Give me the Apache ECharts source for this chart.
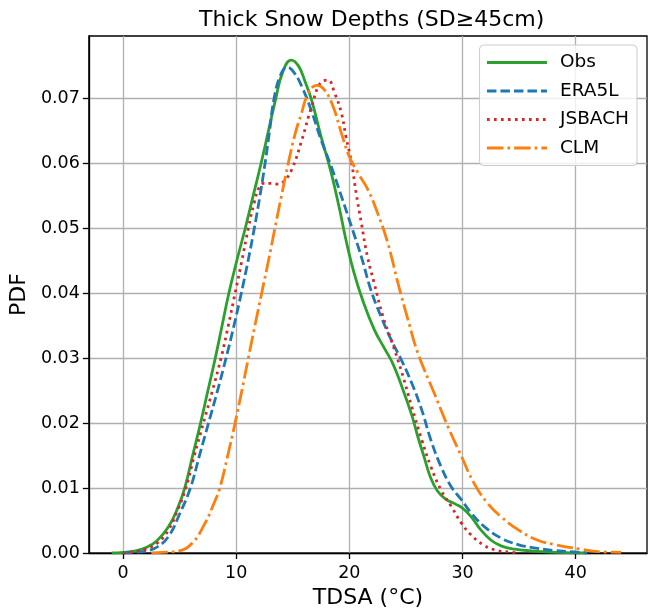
<!DOCTYPE html>
<html>
<head>
<meta charset="utf-8">
<script src="https://cdn.jsdelivr.net/npm/echarts@6/dist/echarts.min.js"></script>
<style>
html,body{margin:0;padding:0;background:#fff;}
#chart{width:655px;height:615px;}
</style>
</head>
<body>
<div id="chart"></div>
<script>
// ---- data ----
const seriesNames = ['Obs', 'ERA5L', 'JSBACH', 'CLM'];
const xTicks = [0, 10, 20, 30, 40];
const yTicks = [0, 0.01, 0.02, 0.03, 0.04, 0.05, 0.06, 0.07];

const obsData = [
  [-1.0, 0.0000], [0.0, 0.0001], [1.0, 0.0003], [2.0, 0.0008], [3.0, 0.0019],
  [4.0, 0.0040], [4.8, 0.0068], [5.45, 0.0100], [6.15, 0.0150], [6.85, 0.0200],
  [7.5, 0.0250], [8.15, 0.0300], [8.75, 0.0350], [9.35, 0.0400], [10.05, 0.0450],
  [10.8, 0.0500], [11.5, 0.0550], [12.2, 0.0600], [12.85, 0.0650], [13.5, 0.0700],
  [14.1, 0.0740], [14.85, 0.0759], [15.5, 0.0750], [16.1, 0.0725], [16.7, 0.0695],
  [17.5, 0.0641], [18.4, 0.0585], [19.15, 0.0528], [19.7, 0.0482], [20.4, 0.0432],
  [21.2, 0.0388], [22.2, 0.0344], [23.1, 0.0315], [23.8, 0.0293], [24.6, 0.0258],
  [25.5, 0.0213], [26.05, 0.0179], [26.6, 0.0148], [27.2, 0.0115], [27.8, 0.0095],
  [28.5, 0.0083], [29.3, 0.0076], [30.0, 0.0069], [30.75, 0.0056], [31.6, 0.0036],
  [32.5, 0.0020], [33.4, 0.0011], [34.6, 0.0006], [36.3, 0.0003], [38.5, 0.0001],
  [41.0, 0.0000]
];
const era5lData = [
  [0.0, 0.0000], [1.0, 0.0001], [2.0, 0.0003], [3.0, 0.0009], [4.0, 0.0025],
  [5.0, 0.0060], [5.95, 0.0100], [6.75, 0.0150], [7.55, 0.0200], [8.35, 0.0250],
  [9.1, 0.0300], [9.8, 0.0350], [10.45, 0.0400], [11.05, 0.0450], [11.6, 0.0500],
  [12.1, 0.0550], [12.55, 0.0600], [12.95, 0.0650], [13.35, 0.0700], [13.9, 0.0735],
  [14.5, 0.0748], [15.1, 0.0740], [15.8, 0.0718], [16.66, 0.0680], [17.5, 0.0636],
  [18.4, 0.0595], [19.3, 0.0549], [20.2, 0.0502], [21.06, 0.0456], [21.9, 0.0405],
  [22.8, 0.0364], [23.7, 0.0328], [24.6, 0.0297], [25.5, 0.0262], [26.4, 0.0220],
  [27.2, 0.0174], [28.1, 0.0133], [29.0, 0.0102], [29.9, 0.0082], [30.75, 0.0062],
  [31.9, 0.0041], [33.4, 0.0023], [34.9, 0.0013], [36.3, 0.0008], [38.0, 0.0004],
  [39.5, 0.0002], [41.0, 0.0000]
];
const jsbachData = [
  [0.0, 0.0000], [1.0, 0.0002], [2.0, 0.0006], [3.0, 0.0015], [4.0, 0.0035],
  [4.8, 0.0065], [5.55, 0.0100], [6.3, 0.0150], [7.1, 0.0200], [7.9, 0.0250],
  [8.66, 0.0300], [9.3, 0.0350], [9.9, 0.0400], [10.5, 0.0450], [11.07, 0.0500],
  [11.6, 0.0540], [12.0, 0.0562], [12.4, 0.0569], [13.1, 0.0569], [13.7, 0.0568],
  [14.2, 0.0572], [14.9, 0.0590], [15.8, 0.0636], [16.66, 0.0687], [17.5, 0.0725],
  [18.1, 0.0728], [18.7, 0.0708], [19.3, 0.0677], [19.7, 0.0641], [20.2, 0.0600],
  [20.6, 0.0554], [21.06, 0.0508], [21.6, 0.0456], [22.2, 0.0415], [22.97, 0.0364],
  [23.7, 0.0328], [24.6, 0.0280], [25.5, 0.0226], [26.4, 0.0174], [27.2, 0.0133],
  [28.1, 0.0097], [29.0, 0.0072], [29.9, 0.0046], [30.75, 0.0028], [31.8, 0.0013],
  [32.8, 0.0005], [34.3, 0.0001], [35.0, 0.0000]
];
const clmData = [
  [2.5, 0.0000], [3.5, 0.0001], [4.9, 0.0003], [6.1, 0.0015], [7.25, 0.0046],
  [8.0, 0.0075], [8.55, 0.0100], [9.25, 0.0150], [9.9, 0.0200], [10.5, 0.0250],
  [11.07, 0.0300], [11.65, 0.0350], [12.25, 0.0400], [12.85, 0.0450], [13.42, 0.0500],
  [14.0, 0.0550], [14.6, 0.0600], [15.2, 0.0645], [15.77, 0.0677], [16.3, 0.0705],
  [17.1, 0.0720], [17.8, 0.0713], [18.57, 0.0687], [19.3, 0.0646], [20.0, 0.0610],
  [20.77, 0.0585], [21.65, 0.0559], [22.5, 0.0523], [23.4, 0.0477], [24.3, 0.0415],
  [25.2, 0.0358], [26.05, 0.0308], [27.5, 0.0246], [28.7, 0.0195], [29.9, 0.0149],
  [31.0, 0.0108], [32.2, 0.0077], [33.4, 0.0056], [34.9, 0.0036], [36.6, 0.0020],
  [38.1, 0.0013], [40.4, 0.0006], [42.0, 0.0002], [44.0, 0.0001]
];
const allData = [obsData, era5lData, jsbachData, clmData];

// ---- styles ----
const FONT = 'DejaVu Sans';
const colors = ['#2ca02c', '#1f77b4', '#d62728', '#ff7f0e'];
const dashes = ['solid', [9.5, 4], [2.7, 4.3], [16.5, 4, 2.7, 4]];

const chart = echarts.init(document.getElementById('chart'), null, {renderer: 'canvas'});
const option = {
  animation: false,
  backgroundColor: '#ffffff',
  textStyle: {fontFamily: FONT},
  title: {
    text: 'Thick Snow Depths (SD≥45cm)',
    left: 366.7,
    textAlign: 'center',
    top: 4,
    textStyle: {fontFamily: FONT, fontSize: 22, fontWeight: 'normal', color: '#000'}
  },
  grid: {
    left: 87, right: 8, top: 36, bottom: 62,
    show: true, borderColor: '#000', borderWidth: 1.3, backgroundColor: 'transparent'
  },
  legend: {
    orient: 'vertical',
    right: 18,
    top: 45,
    padding: [8, 8, 8, 6],
    itemWidth: 60,
    itemHeight: 18,
    itemGap: 9.5,
    backgroundColor: 'rgba(255,255,255,0.8)',
    borderColor: '#cccccc',
    borderWidth: 1,
    borderRadius: 4,
    itemStyle: {opacity: 0},
    lineStyle: {width: 2.8},
    textStyle: {fontFamily: FONT, fontSize: 18.5, color: '#000', padding: [0, 0, 0, 8]},
    data: seriesNames
  },
  xAxis: {
    type: 'value',
    min: -3.02,
    max: 46.3,
    position: 'bottom',
    name: 'TDSA (°C)',
    nameLocation: 'middle',
    nameGap: 30,
    nameTextStyle: {fontFamily: FONT, fontSize: 22, color: '#000'},
    axisLine: {show: true, onZero: false, lineStyle: {color: '#000', width: 1.3}},
    axisTick: {show: true, inside: false, length: 6, lineStyle: {color: '#000', width: 1.3}, customValues: xTicks},
    axisLabel: {customValues: xTicks, fontFamily: FONT, fontSize: 17.5, color: '#000', margin: 11,
      formatter: v => String(v)},
    splitLine: {show: true, lineStyle: {color: '#b0b0b0', width: 1.3}}
  },
  yAxis: {
    type: 'value',
    min: 0,
    max: 0.0796,
    position: 'left',
    name: 'PDF',
    nameLocation: 'middle',
    nameGap: 52,
    nameTextStyle: {fontFamily: FONT, fontSize: 22, color: '#000'},
    axisLine: {show: true, onZero: false, lineStyle: {color: '#000', width: 1.3}},
    axisTick: {show: true, inside: false, length: 6, lineStyle: {color: '#000', width: 1.3}, customValues: yTicks},
    axisLabel: {customValues: yTicks, fontFamily: FONT, fontSize: 17.5, color: '#000', margin: 9,
      formatter: v => v.toFixed(2)},
    splitLine: {show: true, lineStyle: {color: '#b0b0b0', width: 1.3}}
  },
  series: seriesNames.map((name, i) => ({
    name: name,
    type: 'line',
    data: allData[i],
    symbol: 'none',
    showSymbol: false,
    smooth: 0.45,
    clip: true,
    z: 3 + i,
    lineStyle: {color: colors[i], width: 2.8, type: dashes[i], cap: 'butt'},
    itemStyle: {color: colors[i]}
  }))
};
chart.setOption(option);
</script>
</body>
</html>
